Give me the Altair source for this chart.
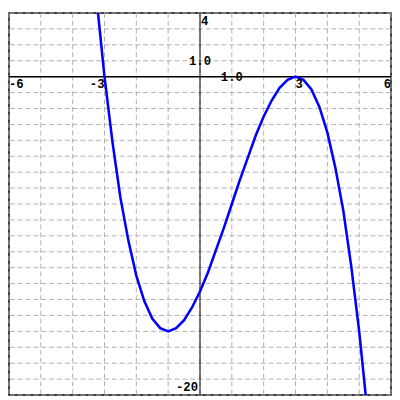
import altair as alt
import pandas as pd

# curve
curve_x = [-3.25, -3.0, -2.75, -2.5, -2.25, -2.0, -1.75, -1.5, -1.25, -1.0, -0.75, -0.5, -0.25,
           0.0, 0.25, 0.5, 0.75, 1.0, 1.25, 1.5, 1.75, 2.0, 2.25, 2.5, 2.75, 3.0, 3.25, 3.5,
           3.75, 4.0, 4.25, 4.5, 4.75, 5.0, 5.25]
curve_y = [4.9, 0.0, -4.1, -7.6, -10.3, -12.5, -14.1, -15.2, -15.8, -16.0, -15.8, -15.3, -14.5,
           -13.5, -12.3, -10.9, -9.5, -8.0, -6.5, -5.1, -3.7, -2.5, -1.5, -0.7, -0.2, 0.0, -0.2, -0.8,
           -1.9, -3.5, -5.7, -8.4, -11.9, -16.0, -20.9]

x_ticks = list(range(-6, 7))
y_ticks = list(range(-20, 5))

# tick labels
lab_text = ["-6", "-3", "3", "6", "4", "1.0", "1.0", "-20"]
lab_x = [-6, -3, 3, 6, 0, 0, 1, 0]
lab_y = [0, 0, 0, 0, 4, 1, 0, -20]

XDOM = [-6, 6]
YDOM = [-20, 4]

def xs(field):
    return alt.X(field, type="quantitative", scale=alt.Scale(domain=XDOM, nice=False, zero=False), axis=None)

def ys(field):
    return alt.Y(field, type="quantitative", scale=alt.Scale(domain=YDOM, nice=False, zero=False), axis=None)

curve = pd.DataFrame({"x": curve_x, "y": curve_y})
labels = pd.DataFrame({"x": lab_x, "y": lab_y, "t": lab_text})

gx = pd.DataFrame({"v": x_ticks})
gy = pd.DataFrame({"v": y_ticks})

grid_dash = [5, 3]
grid_color = "#b0b0b0"

vgrid = alt.Chart(gx).mark_rule(color=grid_color, strokeDash=grid_dash, strokeWidth=1).encode(x=xs("v"))
hgrid = alt.Chart(gy).mark_rule(color=grid_color, strokeDash=grid_dash, strokeWidth=1).encode(y=ys("v"))

zero = pd.DataFrame({"v": [0]})
xaxis = alt.Chart(zero).mark_rule(color="black", strokeWidth=1.5).encode(y=ys("v"))
yaxis = alt.Chart(zero).mark_rule(color="black", strokeWidth=1).encode(x=xs("v"))

line = alt.Chart(curve).mark_line(color="#0000ff", strokeWidth=2.6, clip=True).encode(
    x=xs("x"), y=ys("y"), order="x:Q")

font = dict(font="Liberation Mono", fontWeight="bold", fontSize=12.5, color="black")

def lab(expr, **kw):
    return alt.Chart(labels).transform_filter(expr).mark_text(**font, **kw).encode(
        x=xs("x"), y=ys("y"), text="t:N")

l_left = lab("(datum.t=='-6' || datum.t=='3') && datum.y==0", align="left", baseline="top", dy=2)
l_right = lab("(datum.t=='-3' || datum.t=='6') && datum.y==0", align="right", baseline="top", dy=2)
l_top = lab("datum.t=='4'", align="left", baseline="top", dx=1, dy=2)
l_center = lab("datum.t=='1.0'", align="center", baseline="middle")
l_bottom = lab("datum.t=='-20'", align="right", baseline="bottom", dx=-2, dy=-1)

chart = alt.layer(vgrid, hgrid, xaxis, yaxis, line, l_left, l_right, l_top, l_center, l_bottom).properties(
    width=390, height=390, padding=1, autosize=alt.AutoSizeParams(type="none"),
    background="white"
).configure_view(stroke="black", strokeWidth=1.5)

chart.save("out.html", embed_options={"renderer": "svg", "actions": False})
